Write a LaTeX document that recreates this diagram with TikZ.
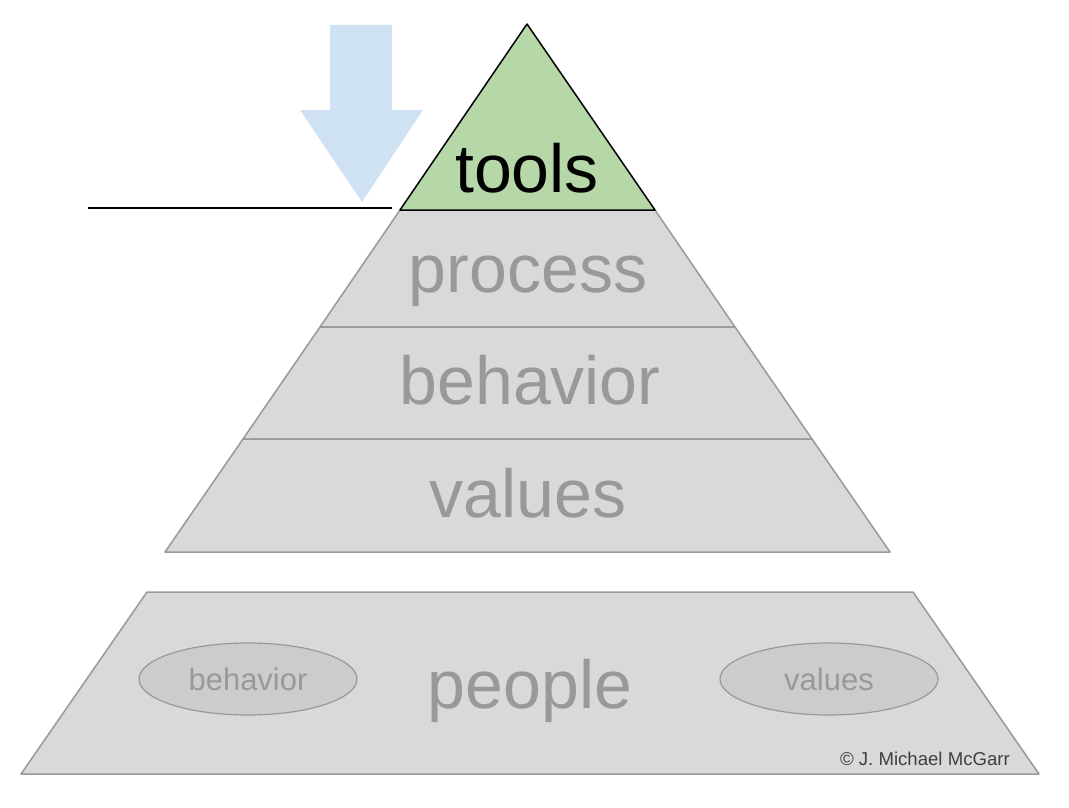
\documentclass[tikz,border=0pt]{standalone}
\usepackage{fontspec}
\setmainfont{Liberation Sans}
\usetikzlibrary{shapes.geometric}
\definecolor{toolgreen}{HTML}{B6D7A8}
\definecolor{layergray}{HTML}{D9D9D9}
\definecolor{edgegray}{HTML}{999999}
\definecolor{ovalgray}{HTML}{CCCCCC}
\definecolor{arrowblue}{HTML}{CFE2F3}
\definecolor{notegray}{HTML}{404040}

\begin{document}
\begin{tikzpicture}[x=1pt,y=-1pt,
  layer/.style={draw=edgegray,line width=1.5pt,fill=layergray,line join=round},
  toplayer/.style={draw=black,line width=1.5pt,fill=toolgreen,line join=round},
  bigtext/.style={font=\fontsize{68}{70}\selectfont,text=edgegray,anchor=base,inner sep=0pt},
  oval/.style={ellipse,draw=edgegray,line width=1.2pt,fill=ovalgray,minimum width=218pt,minimum height=72pt,inner sep=0pt,font=\fontsize{31}{33}\selectfont,text=edgegray}
]
\useasboundingbox (0,0) rectangle (1069,808);
% pyramid layers
\draw[layer] (400,210) -- (655,210) -- (735,327) -- (320,327) -- cycle;
\draw[layer] (320,327) -- (735,327) -- (812,439) -- (243,439) -- cycle;
\draw[layer] (243,439) -- (812,439) -- (890,552) -- (165,552) -- cycle;
\draw[toplayer] (527,24) -- (655,210) -- (400,210) -- cycle;
% base
\draw[layer] (147,592) -- (913,592) -- (1039,774) -- (21,774) -- cycle;
% arrow and line
\fill[arrowblue] (330,25) -- (392,25) -- (392,110) -- (423,110) -- (362,202)
  -- (300,110) -- (330,110) -- cycle;
\coordinate (lineL) at (88,208);
\coordinate (lineR) at (392,208);
\draw[line width=1.5pt] (lineL) -- (lineR);
% labels
\node[bigtext,text=black] (tools) at (527,192) {tools};
\node[bigtext] (process) at (528,292) {process};
\node[bigtext] (behavior) at (530,404) {behavior};
\node[bigtext] (values) at (528,517) {values};
\node[bigtext] (people) at (530,708) {people};
\node[oval] (obehavior) at (248,679) {behavior};
\node[oval] (ovalues) at (829,679) {values};
\node[anchor=base east,inner sep=0pt,font=\fontsize{18.6}{20}\selectfont,text=notegray] (credit) at (1010,765) {© J. Michael McGarr};
\end{tikzpicture}
\end{document}
